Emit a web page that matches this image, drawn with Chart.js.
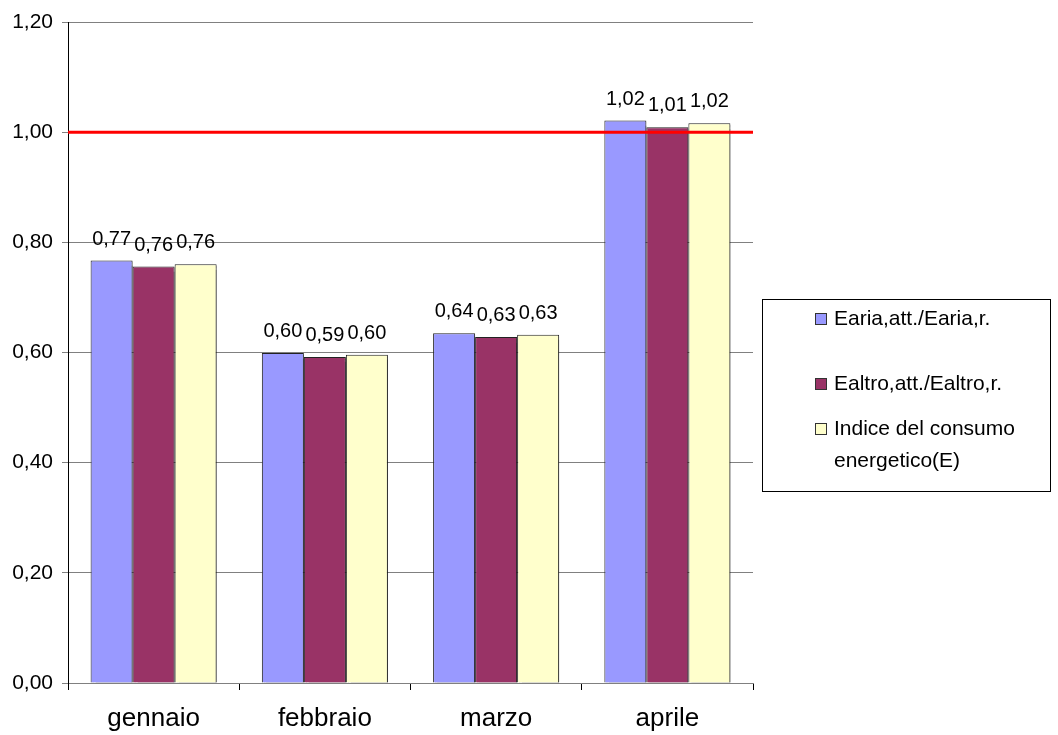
<!DOCTYPE html>
<html>
<head>
<meta charset="utf-8">
<script src="https://cdn.jsdelivr.net/npm/chart.js@4.4.1/dist/chart.umd.min.js"></script>
<style>
  body { margin: 0; background: #fff; }
  canvas { display: block; }
</style>
</head>
<body>
<canvas id="indiceChart" width="1058" height="735"></canvas>
<script>
// dati
const mesi = ["gennaio", "febbraio", "marzo", "aprile"];
const eAria = [0.767, 0.599, 0.635, 1.021];
const eAltro = [0.756, 0.592, 0.628, 1.009];
const indiceE = [0.760, 0.596, 0.632, 1.016];
const etichetteSerie = ["Earia,att./Earia,r.", "Ealtro,att./Ealtro,r.", ["Indice del consumo", "energetico(E)"]];
const soglia = 1.0;
const yTicks = [0, 0.2, 0.4, 0.6, 0.8, 1.0, 1.2];

const FONT = "'Liberation Sans', Arial, sans-serif";
const fmt = (v) => v.toFixed(2).replace(".", ",");

// ombra leggera sotto le barre
const ombraPlugin = {
    id: "ombra",
    beforeDatasetsDraw(chart) {
        const ctx = chart.ctx;
        ctx.save();
        ctx.shadowColor = "rgba(0,0,0,0.35)";
        ctx.shadowOffsetX = 2;
        ctx.shadowOffsetY = 2;
        ctx.shadowBlur = 1;
    },
    afterDatasetsDraw(chart) {
        chart.ctx.restore();
    },
};

// linea rossa di riferimento + etichette dei valori
const extraPlugin = {
    id: "extra",
    afterDatasetsDraw(chart) {
        const ctx = chart.ctx;
        const { left, right } = chart.chartArea;
        const y = chart.scales.y.getPixelForValue(soglia);
        ctx.save();
        ctx.strokeStyle = "#ff0000";
        ctx.lineWidth = 3;
        ctx.beginPath();
        ctx.moveTo(left, y);
        ctx.lineTo(right, y);
        ctx.stroke();

        ctx.fillStyle = "#000";
        ctx.font = "20px " + FONT;
        ctx.textAlign = "center";
        ctx.textBaseline = "alphabetic";
        chart.data.datasets.forEach((ds, i) => {
            chart.getDatasetMeta(i).data.forEach((bar, j) => {
                ctx.fillText(fmt(ds.data[j]), bar.x, bar.y - 16);
            });
        });
        ctx.restore();
    },
};

// legenda con riquadro a destra
const legendaPlugin = {
    id: "legenda",
    afterDraw(chart) {
        const ctx = chart.ctx;
        const bx = 762, by = 299, bw = 288, bh = 192;
        ctx.save();
        ctx.strokeStyle = "#000";
        ctx.lineWidth = 1;
        ctx.strokeRect(bx + 0.5, by + 0.5, bw, bh);

        const rows = [319, 384, 429];
        ctx.font = "21px " + FONT;
        ctx.textAlign = "left";
        ctx.textBaseline = "middle";
        chart.data.datasets.forEach((ds, i) => {
            const cy = rows[i];
            ctx.fillStyle = ds.backgroundColor;
            ctx.fillRect(815, cy - 6, 12, 12);
            ctx.strokeStyle = "#333";
            ctx.strokeRect(815.5, cy - 5.5, 11, 11);
            ctx.fillStyle = "#000";
            const lines = Array.isArray(etichetteSerie[i]) ? etichetteSerie[i] : [etichetteSerie[i]];
            lines.forEach((t, k) => ctx.fillText(t, 834, cy + k * 32));
        });
        ctx.restore();
    },
};

const colori = ["#9999ff", "#993366", "#ffffcc"];
const serie = [eAria, eAltro, indiceE];

new Chart(document.getElementById("indiceChart"), {
    type: "bar",
    data: {
        labels: mesi,
        datasets: serie.map((d, i) => ({
            label: Array.isArray(etichetteSerie[i]) ? etichetteSerie[i].join(" ") : etichetteSerie[i],
            data: d,
            backgroundColor: colori[i],
            borderColor: "#222",
            borderWidth: 1,
            categoryPercentage: 0.736,
            barPercentage: 1.0,
        })),
    },
    options: {
        responsive: false,
        animation: false,
        layout: { padding: { top: 22, right: 305, bottom: 0, left: 0 } },
        plugins: {
            legend: { display: false },
            tooltip: { enabled: false },
        },
        scales: {
            x: {
                offset: true,
                grid: {
                    offset: true,
                    drawOnChartArea: false,
                    drawTicks: true,
                    tickLength: 7,
                    color: "#000",
                },
                border: { color: "#808080", width: 1 },
                ticks: {
                    color: "#000",
                    font: { family: FONT, size: 26 },
                    padding: 13,
                    maxRotation: 0,
                },
                afterFit(scale) { scale.height = 52; },
            },
            y: {
                min: 0,
                max: 1.2,
                afterBuildTicks(scale) {
                    scale.ticks = yTicks.map((v) => ({ value: v }));
                },
                grid: {
                    color: "#808080",
                    tickLength: 6,
                },
                border: { color: "#000", width: 1 },
                ticks: {
                    color: "#000",
                    font: { family: FONT, size: 21 },
                    padding: 9,
                    callback: (v) => fmt(v),
                },
                afterFit(scale) { scale.width = 68; },
            },
        },
    },
    plugins: [ombraPlugin, extraPlugin, legendaPlugin],
});
</script>
</body>
</html>
